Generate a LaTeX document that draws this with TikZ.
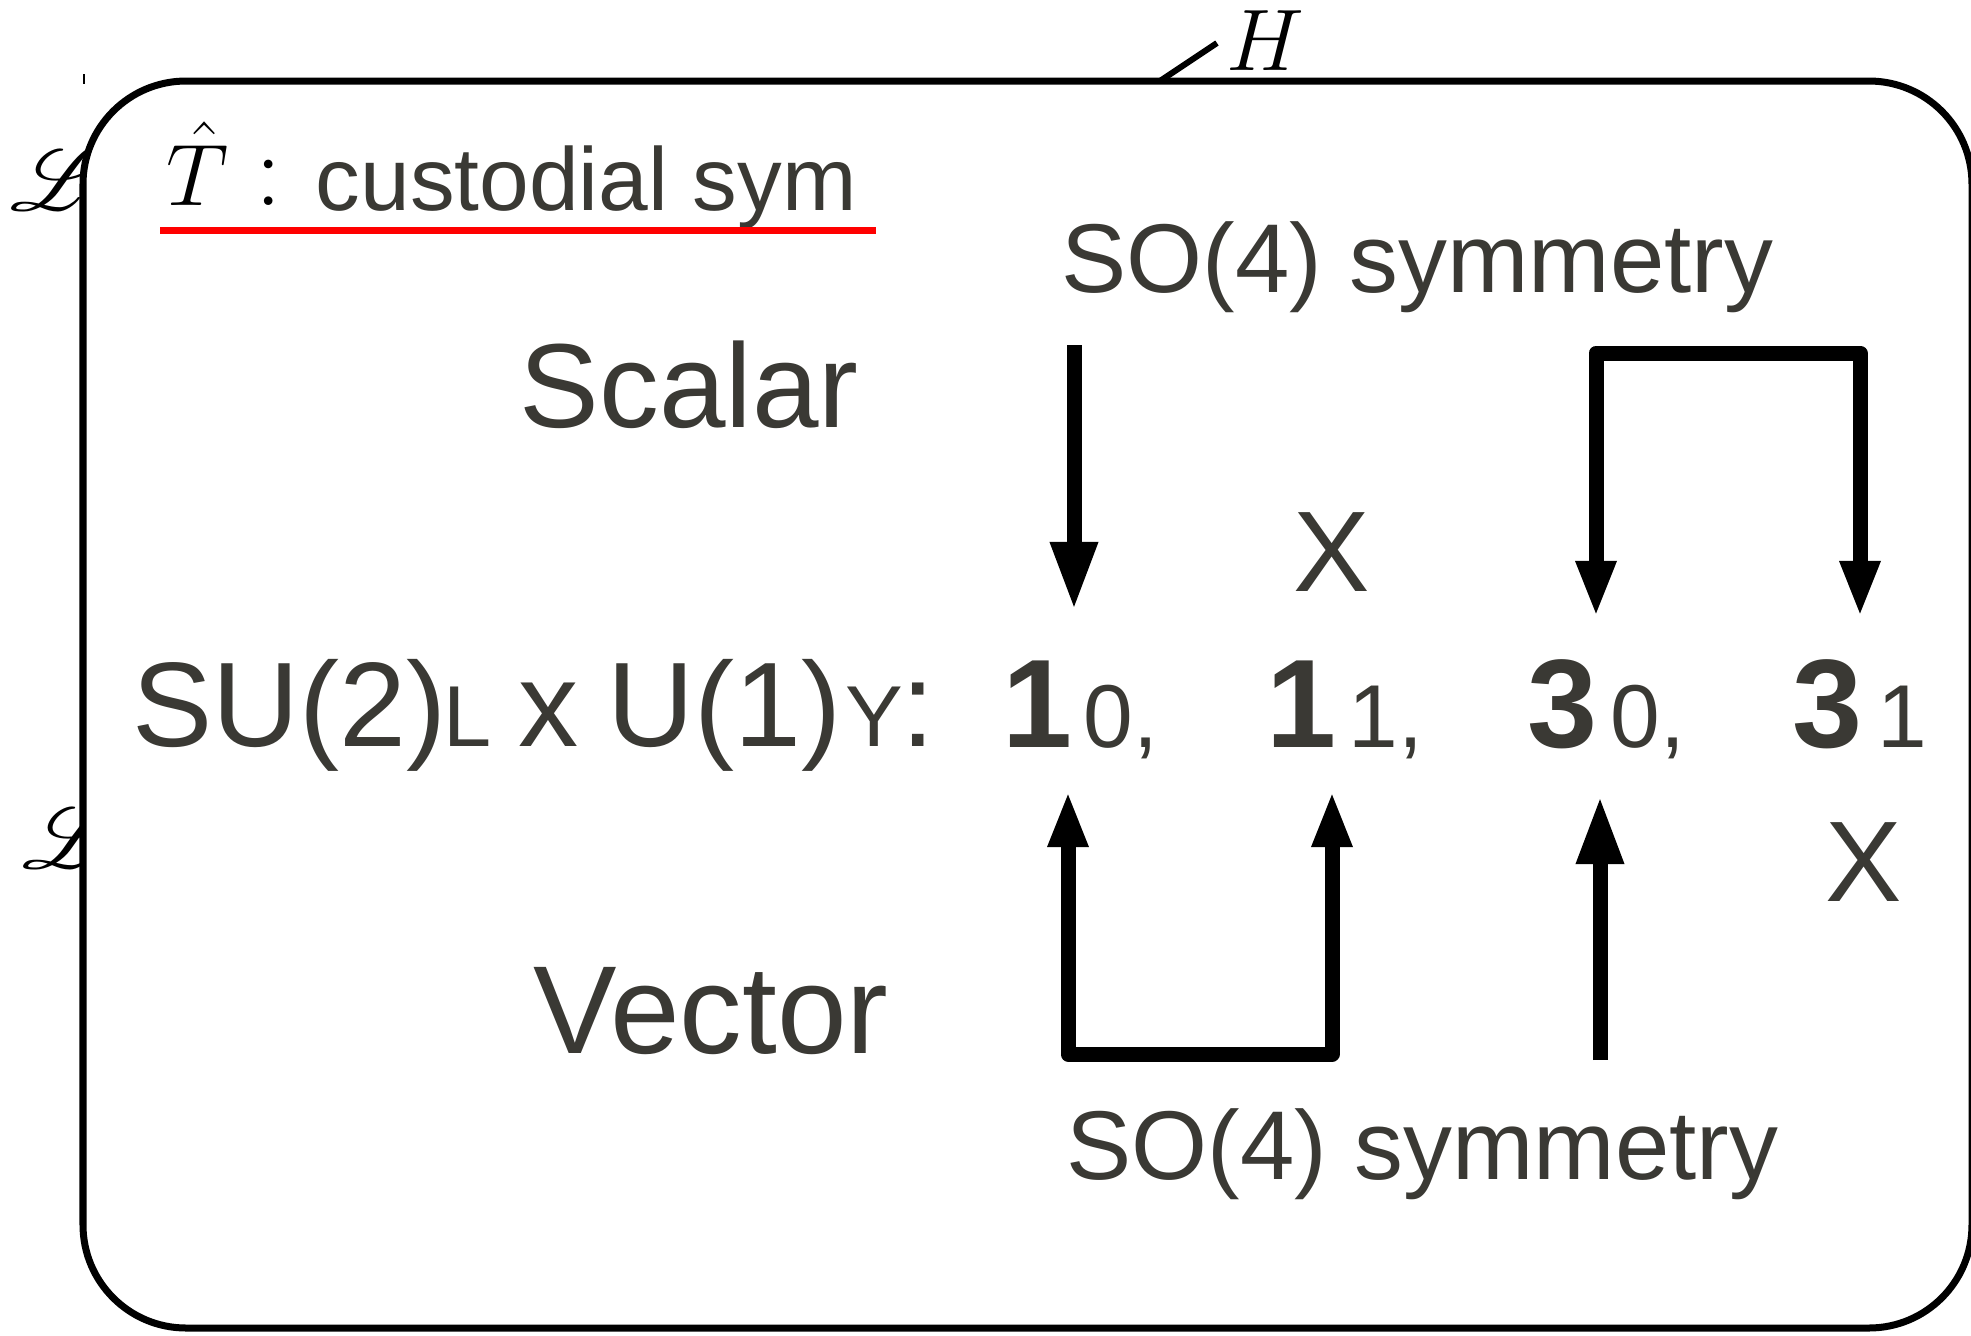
\documentclass[tikz,border=0pt]{standalone}
\usepackage{fontspec}
\usepackage{amsmath}
\usepackage{mathrsfs}
\usetikzlibrary{arrows.meta}
\newfontfamily\jp{Liberation Sans}
\definecolor{txt}{HTML}{3A3934}
\newcommand\myfs[1]{\fontsize{#1}{#1}\selectfont}
\begin{document}
\begin{tikzpicture}[x=0.01cm,y=-0.01cm,
  lab/.style={inner sep=0pt, anchor=base west, text=txt, font=\jp},
  mth/.style={inner sep=0pt, anchor=base west, text=black},
  bigarr/.style={line width=0.15cm, line join=round, -{Triangle[length=0.68cm,width=0.44cm]}},
  brk/.style={line width=0.15cm, line join=round, {Triangle[length=0.56cm,width=0.37cm]}-{Triangle[length=0.56cm,width=0.37cm]}}]
\useasboundingbox (0,0) rectangle (1971,1335);
% script L's behind the box
\node[mth] (L1) at (8,210) {\myfs{27}\rlap{$\mathscr{L}$}};
\node[mth] (L2) at (20,868) {\myfs{26}\rlap{$\mathscr{L}$}};
% H label
\node[mth] (H) at (1226,70) {\myfs{26}$H$};
\coordinate (hl) at (1160,81);
\coordinate (hr) at (1217,43);
\draw[line width=0.06cm] (hl) -- (hr);
\draw[line width=0.015cm] (84,74) -- (84,84);
% main box
\draw[line width=0.07cm, fill=white, rounded corners=1.03cm] (83,81) rectangle (1972,1328);
% title
\node[mth] (T) at (166,205) {\myfs{24}$\hat{T}$};
\node[mth] (colon) at (255,205) {\myfs{30}:};
\node[lab] (cust) at (315,210) {\myfs{25.4}custodial sym};
\coordinate (ul1) at (160,230);
\coordinate (ul2) at (876,230);
\draw[red, line width=0.07cm] (ul1) -- (ul2);
% labels
\node[lab] (so4t) at (1061,292) {\myfs{27.8}SO(4) symmetry};
\node[lab] (scalar) at (519,427) {\myfs{34}Scalar};
\node[lab] (vector) at (533,1053) {\myfs{35.6}Vector};
\node[lab] (so4b) at (1066,1179) {\myfs{27.8}SO(4) symmetry};
% group line
\node[lab] (su2) at (132,746) {\myfs{34.2}SU(2)};
\node[lab] (subL) at (443,746) {\myfs{24.6}L};
\node[lab] (times) at (518,746) {\myfs{34.2}x};
\node[lab] (u1) at (607,746) {\myfs{34.2}U(1)};
\node[lab] (subY) at (845,746) {\myfs{24.6}Y};
\node[lab] (col2) at (901,746) {\myfs{34.2}:};
% representations
\node[lab] (n1a) at (1002,747) {\myfs{35.8}\bfseries 1};
\node[lab] (s0a) at (1083,747) {\myfs{25.4}0,};
\node[lab] (n1b) at (1266,747) {\myfs{35.8}\bfseries 1};
\node[lab] (s1b) at (1348,747) {\myfs{25.4}1,};
\node[lab] (n3a) at (1527,747) {\myfs{35.8}\bfseries 3};
\node[lab] (s0b) at (1610,747) {\myfs{25.4}0,};
\node[lab] (n3b) at (1792,747) {\myfs{35.8}\bfseries 3};
\node[lab] (s1c) at (1877,747) {\myfs{25.4}1};
% X marks
\node[lab] (x1) at (1293,591) {\myfs{32.6}X};
\node[lab] (x2) at (1825,901) {\myfs{32.6}X};
% arrows
\coordinate (a1s) at (1074,345);
\coordinate (a1e) at (1074,610);
\draw[bigarr] (a1s) -- (a1e);
\coordinate (b1) at (1596,617);
\coordinate (c1) at (1596,353);
\coordinate (c2) at (1860,353);
\coordinate (b2) at (1860,617);
\draw[brk] (b1) -- (c1) -- (c2) -- (b2);
\coordinate (d1) at (1068,791);
\coordinate (e1) at (1068,1054);
\coordinate (e2) at (1332,1054);
\coordinate (d2) at (1332,791);
\draw[brk] (d1) -- (e1) -- (e2) -- (d2);
\coordinate (a4s) at (1600,1060);
\coordinate (a4e) at (1600,796);
\draw[bigarr] (a4s) -- (a4e);
\end{tikzpicture}
\end{document}
